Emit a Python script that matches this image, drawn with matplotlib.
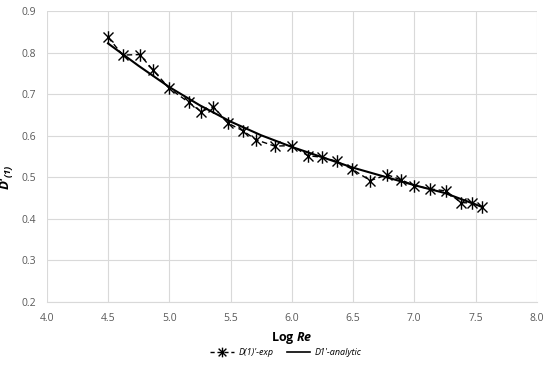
import matplotlib
matplotlib.use("Agg")
import matplotlib.pyplot as plt
from matplotlib.path import Path
from matplotlib.lines import Line2D

plt.rcParams["font.family"] = ["Open Sans", "DejaVu Sans"]
plt.rcParams["mathtext.fontset"] = "custom"
plt.rcParams["mathtext.rm"] = "Open Sans"
plt.rcParams["mathtext.it"] = "Open Sans:italic"
plt.rcParams["mathtext.bf"] = "Open Sans:bold"
plt.rcParams["mathtext.bfit"] = "Open Sans:bold:italic"

# experimental points
exp_x = [4.50, 4.62, 4.76, 4.87, 5.00, 5.16, 5.26, 5.36, 5.48, 5.60, 5.71, 5.86, 6.00,
         6.13, 6.25, 6.37, 6.49, 6.64, 6.78, 6.89, 7.00, 7.13, 7.26, 7.38, 7.47, 7.55]
exp_y = [0.837, 0.794, 0.795, 0.757, 0.714, 0.680, 0.658, 0.670, 0.630, 0.612, 0.590, 0.575, 0.576,
         0.552, 0.548, 0.538, 0.520, 0.492, 0.506, 0.494, 0.480, 0.472, 0.467, 0.439, 0.438, 0.429]

# analytic curve
ana_x = [4.50, 4.75, 5.00, 5.25, 5.50, 5.75, 6.00, 6.25, 6.50, 6.75, 7.00, 7.25, 7.55]
ana_y = [0.822, 0.768, 0.717, 0.673, 0.634, 0.601, 0.573, 0.548, 0.523, 0.502, 0.481, 0.462, 0.429]

# star marker: X with a vertical bar (Excel style)
star = Path([(-1, -1), (1, 1), (-1, 1), (1, -1), (0, -1.25), (0, 1.25)],
            [Path.MOVETO, Path.LINETO, Path.MOVETO, Path.LINETO, Path.MOVETO, Path.LINETO])

fig = plt.figure(figsize=(5.5, 3.66), dpi=100)
ax = fig.add_axes([0.085, 0.175, 0.891, 0.795])

ax.plot(exp_x, exp_y, color="black", linestyle=(0, (4, 2.5)), linewidth=1.0,
        marker=star, markersize=9, markeredgewidth=1.0, markeredgecolor="black")
ax.plot(ana_x, ana_y, color="black", linewidth=1.5)

ax.set_xlim(4.0, 8.0)
ax.set_ylim(0.2, 0.9)
ax.set_xticks([4.0, 4.5, 5.0, 5.5, 6.0, 6.5, 7.0, 7.5, 8.0])
ax.set_yticks([0.2, 0.3, 0.4, 0.5, 0.6, 0.7, 0.8, 0.9])
ax.set_xticklabels([f"{v:.1f}" for v in ax.get_xticks()])
ax.set_yticklabels([f"{v:.1f}" for v in ax.get_yticks()])
ax.tick_params(length=0, labelsize=7.5, colors="#595959", pad=8)
ax.grid(True, color="#d9d9d9", linewidth=0.8)
ax.set_axisbelow(True)
for s in ["top", "right", "left"]:
    ax.spines[s].set_visible(False)
ax.spines["bottom"].set_color("#d9d9d9")

ax.set_xlabel(r"Log $\mathbfit{Re}$", fontsize=9, fontweight="bold", labelpad=4)
ax.set_ylabel(r"D'$_{\mathbfit{(1)}}$", fontsize=9.5, fontweight="bold", fontstyle="italic")
ax.yaxis.set_label_coords(-0.062, 0.43)

handles = [
    Line2D([], [], color="black", linestyle=(0, (3, 2)), linewidth=1.0,
           marker=star, markersize=7, markeredgewidth=1.0),
    Line2D([], [], color="black", linewidth=1.2),
]
fig.legend(handles, ["D(1)'-exp", "D1'-analytic"], loc="center",
           bbox_to_anchor=(0.52, 0.036), ncol=2, frameon=False,
           prop={"style": "italic", "size": 6.5}, handlelength=2.6,
           columnspacing=1.5, handletextpad=0.5)

fig.savefig("out.png", dpi=100)
